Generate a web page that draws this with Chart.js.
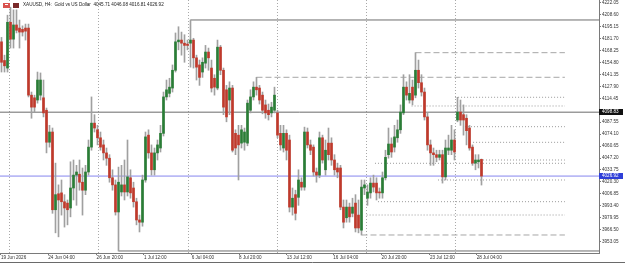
<!DOCTYPE html>
<html>
<head>
<meta charset="utf-8">
<script src="https://cdn.jsdelivr.net/npm/chart.js@4.4.1/dist/chart.umd.min.js"></script>
<style>
  body { margin: 0; background: #fff; }
  #wrap { width: 625px; height: 263px; }
</style>
</head>
<body>
<div id="wrap"><canvas id="chart" width="625" height="263"></canvas></div>
<script>
// XAUUSD H4 candles, one entry per bar
var opens = [4178,4157,4148.5,4200,4181,4197,4193.5,4192,4193.5,4193.5,
  4118,4115,4112.5,4118,4115,4101,4065,4076.5,3989,4007,
  4008,3998,3996.5,3991,4013.5,4028,4029,4020,4011,4031.5,
  4059.5,4086.5,4079,4070,4062,4053,4047,4025,4017,3986.5,
  4009,4017,4009,4025,4013.5,3998,3977.5,3975,4022.5,4073,
  4053,4034,4053,4058.5,4075,4116,4120,4126,4146,4178,
  4180,4176.5,4175.5,4176.5,4180,4160,4152,4144,4154,4166.5,
  4148.5,4137,4126,4172,4146,4124,4112.5,4126,4075,4073,
  4064,4065,4064,4101,4116,4127,4126,4118,4107,4101,
  4098,4101,4098,4075,4058.5,4075,4067.5,3992,4006,4003,
  4020,4014.5,4076.5,4062,4059.5,4031.5,4028,4070,4034,4064,
  4064,4045,4036,4036,3992,3980,3992,3985,3996.5,3983,
  3966,4013.5,4002,4008,4019,4019,4009,4008,4025,4051,
  4063,4059.5,4070,4079,4098,4127,4112.5,4127,4118,4146,
  4132,4121.5,4093.5,4062,4053,4051,4048,4051,4026,4056,
  4056,4067.5,4090,4099,4096,4092,4081,4059.5,4041.5,4043,
  4045.71]
var highs = [4183,4163,4208,4217,4214,4214,4202.5,4196,4198,4198,
  4121.5,4118,4144,4143,4135,4103.5,4084,4081,4041.5,4017,
  4022.5,4006,4000,4043,4045,4039,4045,4036,4039,4067.5,
  4116,4096,4084,4076.5,4067.5,4058.5,4051,4034,4022.5,4037,
  4039,4045,4067.5,4034,4020,4002,3983,4028,4076.5,4079,
  4062,4058.5,4067.5,4084,4121.5,4135,4137,4152,4188,4195,
  4189,4186,4180,4202.6,4182,4163,4157.5,4160,4174,4171,
  4157.5,4141,4180,4174,4148.5,4129,4133,4129,4079,4084,
  4084,4081,4112.5,4124,4133,4138.1,4129,4121.5,4112.5,4108,
  4110,4127,4101,4084,4084,4079,4073,4013.5,4011,4034,
  4025,4082,4081,4067.5,4062,4036,4076.5,4073,4067.5,4081,
  4070,4051,4041.5,4039,4000,4000,3996.5,4002,4006,4000,
  4022.5,4022.5,4017,4025,4028,4025,4013.5,4031.5,4056,4081,
  4070,4084,4090,4107,4141,4133,4141,4135,4165.8,4157.5,
  4141,4126,4098,4067.5,4058.5,4056,4056,4056,4067.5,4073,
  4084,4079,4115.6,4112.5,4107,4096,4084,4062,4051,4051,
  4046.08]
var lows = [4144,4144,4144,4171,4171,4188,4171,4184.5,4180,4116,
  4092,4099,4109,4112.5,4093.5,4053,4059.5,3985,3963,3958.5,
  3983,3969.5,3972,3981,4000,3994,4011,3983,4006,4028,
  4056,4076.5,4062,4056,4045,4039,4020,4011,3983,3942.6,
  4004.5,4000,4004.5,4002,3992,3972,3964,3970.5,4020,4047,
  4028,4028,4045,4054,4072,4112.5,4116,4121.5,4144,4169,
  4163,4155,4169,4149.5,4148.5,4135,4129,4138,4148.5,4146,
  4121.5,4118,4124,4141,4096,4088,4096,4054,4051,4022.5,
  4058.5,4056,4061,4098,4112.5,4118,4108,4097,4092,4090,
  4093.5,4098,4070,4056,4054,4045,3986.5,3983,3977.5,3994,
  4011,4011,4058.5,4051,4027,4020,4025,4041.5,4028,4045,
  4039,4028,4025,3989,3968.5,3975,3975,3981,3964,3963,
  3960.6,4006,3994,4002,4009,4000,4002,4002,4022.5,4047,
  4048,4054,4065,4075,4096,4112.5,4109,4107,4115,4126,
  4117,4090,4056,4039,4039,4043,4045,4019,4022.5,4051,
  4051,4045,4088,4084,4073,4062,4056,4039,4034,4036,
  4016.81]
var closes = [4155,4151,4200,4181,4197,4191,4189,4189,4190,4118,
  4104.5,4104.5,4135,4135,4098,4065,4076.5,3989,4006,4000,
  3998,3991,3989,4013.5,4028,4031.5,4020,4011,4031.5,4059.5,
  4086.5,4081,4070,4059.5,4053,4047,4025,4017,3986.5,4020,
  4017,4009,4026,4008,3998,3977.5,3975,4022.5,4071,4053,
  4034,4053,4062,4075,4116,4124,4127,4146,4178,4180,
  4176.5,4174,4174,4180,4160,4149.5,4138,4155,4166.5,4160,
  4126,4127,4172,4146,4104.5,4093.5,4126,4056,4058.5,4062,
  4079,4076.5,4109,4116,4127,4124,4112.5,4101,4098,4096,
  4104.5,4118,4073,4062,4075,4056,3992,4002,3985,4022.5,
  4014.5,4076.5,4062,4056,4031.5,4028,4070,4045,4056,4051,
  4045,4034,4031.5,3992,3975,3992,3981,3992,3968.5,3968.5,
  4014.5,4017,4009,4019,4014.5,4008,4008,4025,4048,4063,
  4054,4071,4079,4099,4127,4118,4120,4112.5,4146,4132,
  4121.5,4093.5,4062,4053,4051,4048,4051,4026,4058.5,4058.5,
  4067.5,4054,4099,4090,4090,4078,4058.5,4041.5,4045,4045,
  4026.92]

// price scale labels on the right (4101.00 is covered by the line label)
var priceTicks = ['4222.05','4208.60','4195.15','4181.70','4168.25','4154.80','4141.35','4127.90','4114.45',
  '4087.55','4074.10','4060.65','4047.20','4033.75','4020.30','4006.85','3993.40','3979.95','3966.50','3953.05']
var timeLabels = ['19 Jun 2026','24 Jun 04:00','26 Jun 20:00','1 Jul 12:00','6 Jul 04:00','8 Jul 20:00',
  '13 Jul 12:00','16 Jul 04:00','20 Jul 20:00','23 Jul 12:00','28 Jul 04:00']
var timeLabelBars = [-0.2,15.6,31.7,47.5,63.4,79.2,95.1,110.6,126.7,142.8,158.4]
var weekStartBars = [2.67,32.33,62.33,92,121.67,151.33]

// drawn objects: horizontal levels (price, first bar)
var dashedLevels = [4165.8,4138.1,3960.6]
var dashedFrom = [138,85,120]
var dottedLevels = [4115.6,4105.8,4082.5,4064.9,4045.0,4041.3,4022.5,3998.1,3983.1]
var dottedFrom = [151.2,136.7,154.5,157.2,159.5,124.5,145.5,125.5,121.7]
var rangeHigh = 4202.6, rangeHighFrom = 63
var rangeLow = 3942.6, rangeLowFrom = 39
var hLine = 4098.83
var bid = 4026.92
var header = 'XAUUSD, H4:  Gold vs US Dollar  4045.71 4046.08 4016.81 4026.92'

var X_MIN = -0.5, X_MAX = 199.17, Y_MIN = 3940.33, Y_MAX = 4225.09
var LEVEL_END = 187.8
var UP = '#2a7d36', DOWN = '#c0392b', WICK = '#a0a0a0'
var FONT = 'Liberation Sans, Arial, sans-serif'

var wicks = [], bodies = [], bodyColors = []
for (let i = 0; i < opens.length; i++) {
    wicks.push({ x: i, y: [lows[i], highs[i]] })
    bodies.push({ x: i, y: [Math.min(opens[i], closes[i]), Math.max(opens[i], closes[i])] })
    bodyColors.push(closes[i] >= opens[i] ? UP : DOWN)
}

function levelLine(price, from, to, color, dash) {
    return {
        type: 'line', data: [{ x: from, y: price }, { x: to, y: price }],
        borderColor: color, borderWidth: 1, borderDash: dash, pointRadius: 0, order: 5
    }
}

var datasets = [
    { type: 'bar', data: wicks, backgroundColor: WICK, barThickness: 1, grouped: false, order: 3 },
    { type: 'bar', data: bodies, backgroundColor: bodyColors, barThickness: 2, grouped: false, minBarLength: 1, order: 2 }
]

// weekly separators as one broken line
var sep = []
weekStartBars.forEach((b) => {
    sep.push({ x: b, y: Y_MAX }, { x: b, y: Y_MIN }, { x: b, y: null })
})
datasets.push({ type: 'line', data: sep, borderColor: '#a8a8a8', borderWidth: 1, borderDash: [1, 2], pointRadius: 0, spanGaps: false, order: 6 })

dashedLevels.forEach((p, i) => datasets.push(levelLine(p, dashedFrom[i], LEVEL_END, '#a6a6a6', [6, 3])))
dottedLevels.forEach((p, i) => datasets.push(levelLine(p, dottedFrom[i], LEVEL_END, '#9a9a9a', [1, 2])))
datasets.push(levelLine(rangeHigh, rangeHighFrom, X_MAX, '#6e6e6e', []))
datasets.push(levelLine(rangeLow, rangeLowFrom, X_MAX, '#6e6e6e', []))
datasets.push(levelLine(hLine, X_MIN, X_MAX, '#6a6a6a', []))
datasets.push(levelLine(bid, X_MIN, X_MAX, '#8585ee', []))

//Draws header, price boxes and the frame bottom
var decor = {
    id: 'decor',
    afterDraw(chart) {
        let ctx = chart.ctx
        let y = chart.scales.y
        let area = chart.chartArea
        ctx.save()
        ctx.font = '4.6px ' + FONT
        ctx.textBaseline = 'middle'
        ctx.fillStyle = '#222'
        ctx.fillText(header, 23, 5)
        ctx.fillStyle = '#d9534f'
        ctx.fillRect(3, 3, 7, 5)
        ctx.fillStyle = '#fff'
        ctx.fillRect(5, 4, 3, 1)
        ctx.fillStyle = '#7a2a2a'
        ctx.fillRect(13, 3, 6, 5)

        let boxes = [[hLine, '#111'], [bid, '#2f3fd8']]
        boxes.forEach((b) => {
            let py = y.getPixelForValue(b[0])
            ctx.fillStyle = b[1]
            ctx.fillRect(area.right, Math.round(py) - 3, 24, 6)
            ctx.fillStyle = '#fff'
            ctx.fillText(b[0].toFixed(2), area.right + 3, Math.round(py))
        })

        ctx.strokeStyle = '#6a6a6a'
        ctx.lineWidth = 1
        ctx.beginPath()
        ctx.moveTo(0, 262.5)
        ctx.lineTo(625, 262.5)
        ctx.stroke()
        ctx.restore()
    }
}

new Chart(document.getElementById('chart'), {
    type: 'bar',
    data: { datasets: datasets },
    plugins: [decor],
    options: {
        responsive: false,
        animation: false,
        devicePixelRatio: 1,
        layout: { padding: 0, autoPadding: false },
        plugins: { legend: { display: false }, tooltip: { enabled: false } },
        scales: {
            x: {
                type: 'linear', min: X_MIN, max: X_MAX, offset: false,
                grid: { drawOnChartArea: false, offset: false, tickLength: 2, color: '#7a7a7a' },
                border: { color: '#7a7a7a' },
                afterBuildTicks: (s) => { s.ticks = timeLabelBars.map((v) => ({ value: v })) },
                afterFit: (s) => { s.height = 10; s.paddingLeft = 0; s.paddingRight = 0 },
                ticks: {
                    autoSkip: false, maxRotation: 0, align: 'start', padding: 0,
                    color: '#333', font: { family: FONT, size: 4.6 },
                    callback: (v, i) => timeLabels[i]
                }
            },
            y: {
                position: 'right', min: Y_MIN, max: Y_MAX,
                grid: { drawOnChartArea: false, tickLength: 2, color: '#7a7a7a' },
                border: { color: '#7a7a7a' },
                afterBuildTicks: (s) => { s.ticks = priceTicks.map((v) => ({ value: parseFloat(v) })) },
                afterFit: (s) => { s.width = 26; s.paddingTop = 0; s.paddingBottom = 0 },
                ticks: {
                    padding: 1, color: '#333', font: { family: FONT, size: 4.6 },
                    callback: (v, i) => priceTicks[i]
                }
            }
        }
    }
})
</script>
</body>
</html>
